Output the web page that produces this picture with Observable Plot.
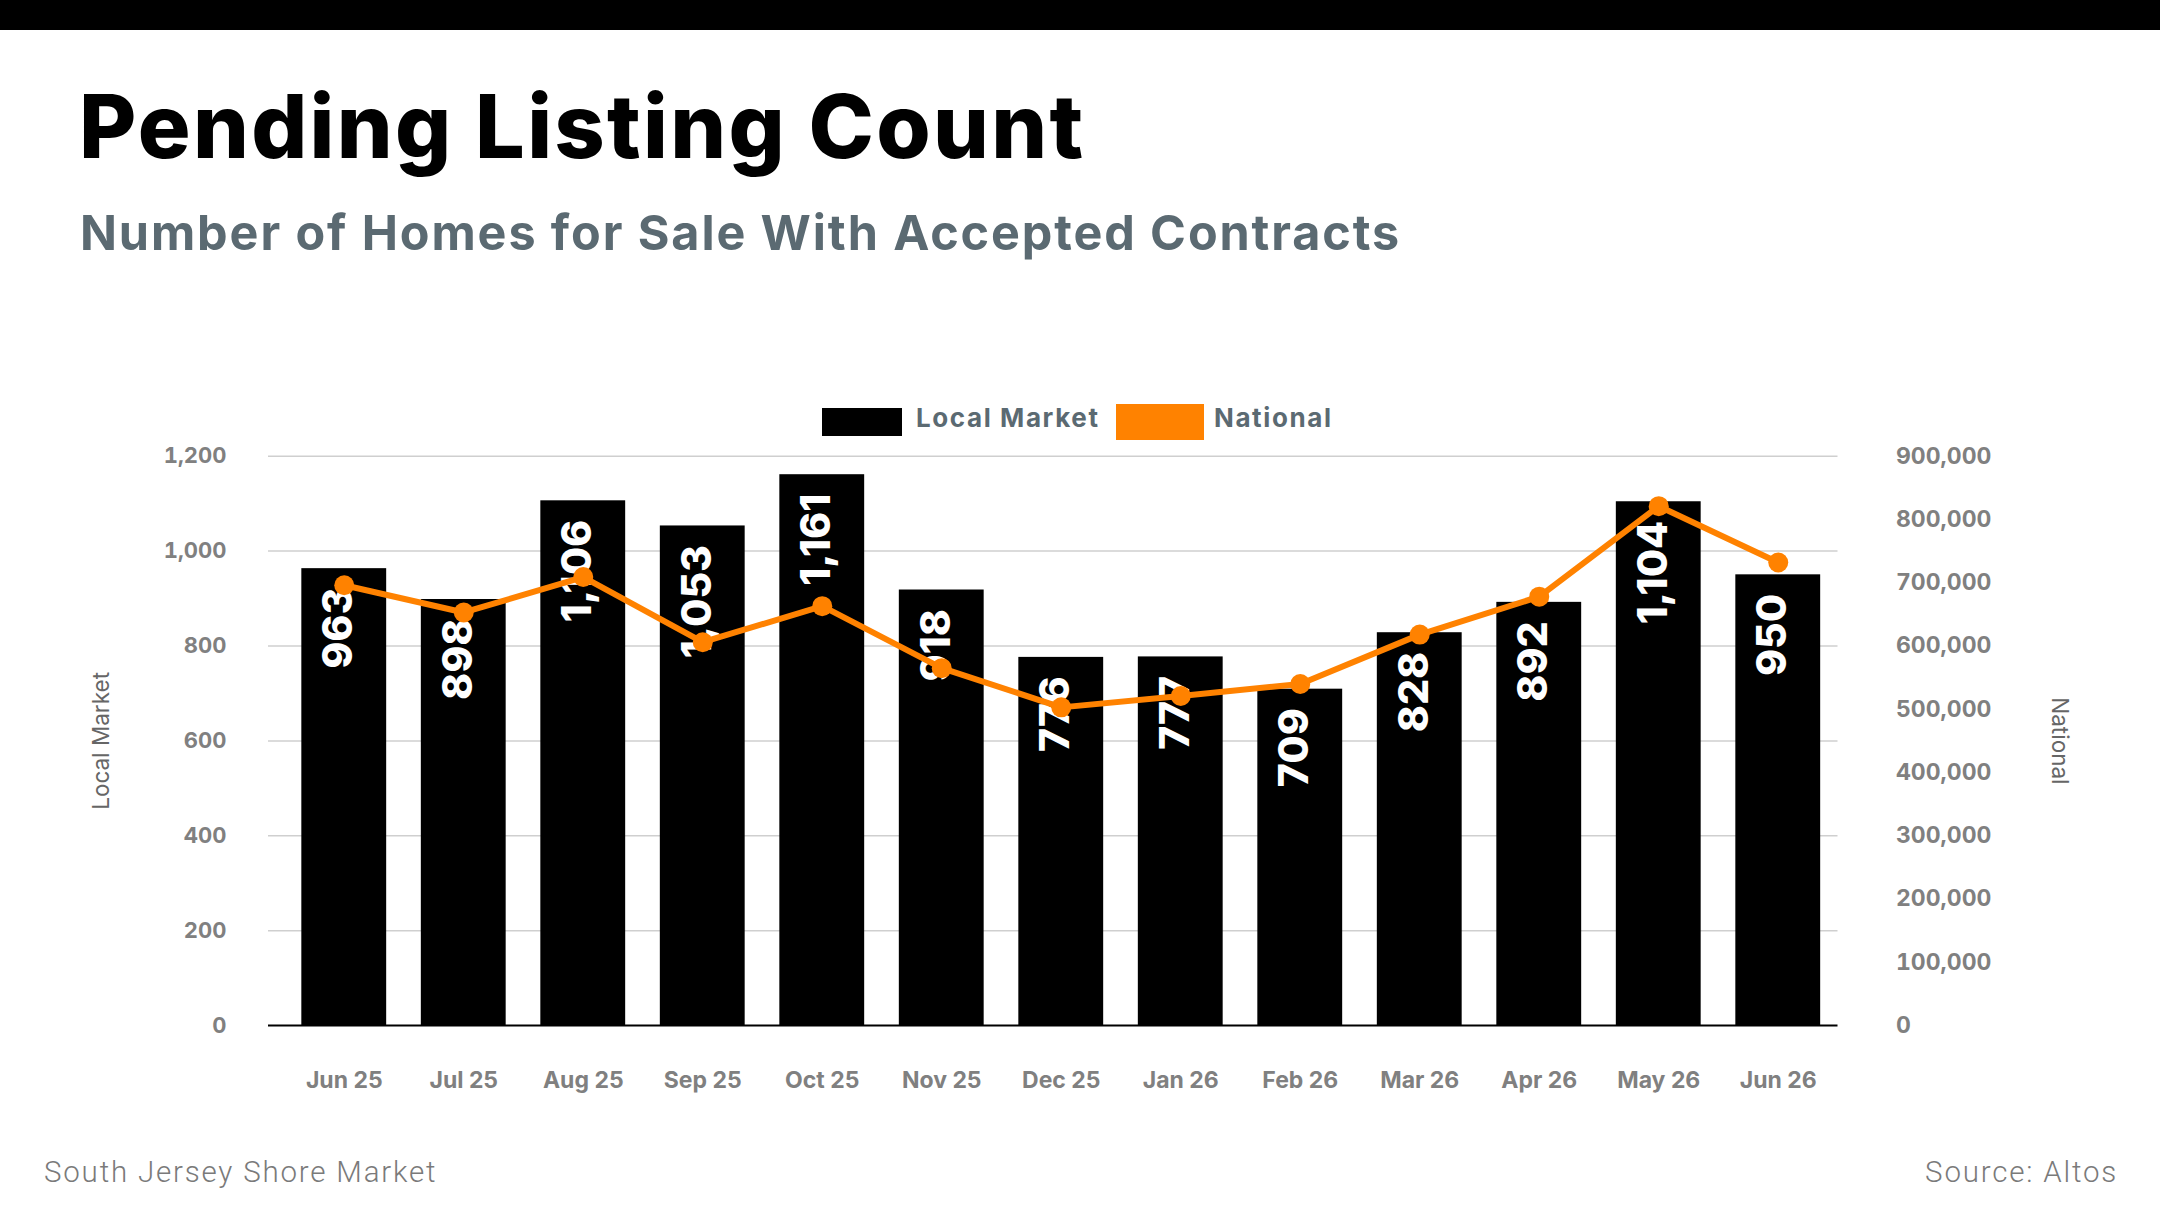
<!DOCTYPE html>
<html>
<head>
<meta charset="utf-8">
<script src="https://cdn.jsdelivr.net/npm/d3@7"></script>
<script src="https://cdn.jsdelivr.net/npm/@observablehq/plot@0.6"></script>
<style>
  html, body { margin: 0; padding: 0; background: #fff; }
  body { width: 2160px; height: 1215px; position: relative; overflow: hidden; font-family: Inter, sans-serif; }
  #topbar { position: absolute; left: 0; top: 0; width: 2160px; height: 30px; background: #000; }
  #title { position: absolute; left: 79px; top: 82px; font-size: 88px; font-weight: 800; line-height: 1; color: #000; white-space: nowrap; letter-spacing: 2.3px; }
  #subtitle { position: absolute; left: 80px; top: 209px; font-size: 48.5px; font-weight: 700; line-height: 1; color: #5b6a72; white-space: nowrap; letter-spacing: 1.9px; }
  .sw { position: absolute; }
  .lg { position: absolute; font-size: 26px; font-weight: 700; line-height: 1; color: #5b6a72; white-space: nowrap; letter-spacing: 1.6px; }
  #chart { position: absolute; left: 0; top: 440px; }
  .footer { position: absolute; top: 1158px; font-family: Roboto, sans-serif; font-weight: 300; font-size: 29.5px; line-height: 1; color: #7a7a7a; white-space: nowrap; letter-spacing: 1.8px; }
</style>
</head>
<body>
<div id="topbar"></div>
<div id="title">Pending Listing Count</div>
<div id="subtitle">Number of Homes for Sale With Accepted Contracts</div>
<div class="sw" style="left:822px; top:408px; width:80px; height:28px; background:#000;"></div>
<div class="lg" style="left:916px; top:405px;">Local Market</div>
<div class="sw" style="left:1116px; top:404px; width:88px; height:36px; background:#ff8200;"></div>
<div class="lg" style="left:1214px; top:405px;">National</div>
<div id="chart"></div>
<div class="footer" style="left:44px;">South Jersey Shore Market</div>
<div class="footer" style="right:42px;">Source: Altos</div>
<script>
const months = ["Jun 25", "Jul 25", "Aug 25", "Sep 25", "Oct 25", "Nov 25", "Dec 25", "Jan 26", "Feb 26", "Mar 26", "Apr 26", "May 26", "Jun 26"];
const localMarket = [963, 898, 1106, 1053, 1161, 918, 776, 777, 709, 828, 892, 1104, 950];
const national = [696000, 653000, 709000, 606000, 663000, 565000, 503000, 521000, 540000, 618000, 678000, 821000, 732000];
const leftTicks = [0, 200, 400, 600, 800, 1000, 1200];
const rightTicks = [0, 100000, 200000, 300000, 400000, 500000, 600000, 700000, 800000, 900000];
const leftMax = 1200;
const rightMax = 900000;

const ratio = rightMax / leftMax;
const data = months.map((m, i) => ({month: m, local: localMarket[i], national: national[i]}));
const fmt = d3.format(",");
const orange = "#ff8200";
const W = 2160, H = 670, svgTop = 440;
const plotTop = 455.7, plotBottom = 1025.1;

const chart = Plot.plot({
  width: W,
  height: H,
  marginTop: plotTop - svgTop,
  marginBottom: H - (plotBottom - svgTop),
  marginLeft: 268,
  marginRight: W - 1837.5,
  style: {fontFamily: "Inter, sans-serif", background: "transparent", overflow: "visible"},
  x: {type: "band", domain: months, paddingInner: 0.29, paddingOuter: 0.145, insetLeft: 16, round: false},
  y: {domain: [0, leftMax]},
  marks: [
    Plot.gridY(leftTicks.filter(d => d > 0), {stroke: "#cfcfcf", strokeOpacity: 1, strokeWidth: 1.5}),
    Plot.barY(data, {x: "month", y: "local", fill: "#000"}),
    Plot.ruleY([0], {stroke: "#000", strokeWidth: 2}),
    Plot.text(data, {x: "month", y: "local", text: d => fmt(d.local), rotate: -90, textAnchor: "end", dy: 19, dx: -5, fill: "#fff", fontSize: 41, fontWeight: 800, letterSpacing: 1}),
    Plot.line(data, {x: "month", y: d => d.national / ratio, stroke: orange, strokeWidth: 6}),
    Plot.dot(data, {x: "month", y: d => d.national / ratio, r: 10, fill: orange}),
    Plot.axisX({tickSize: 0, tickPadding: 46, fontSize: 23, fontWeight: 700, fill: "#808080", label: null, letterSpacing: 0.5}),
    Plot.axisY(leftTicks, {anchor: "left", tickSize: 0, tickPadding: 42, fontSize: 22, fontWeight: 700, fill: "#808080", tickFormat: fmt, label: null}),
    Plot.axisY(rightTicks.map(v => v / ratio), {anchor: "right", tickSize: 0, tickPadding: 58, fontSize: 23, fontWeight: 700, fill: "#808080", tickFormat: d => fmt(Math.round(d * ratio)), label: null, letterSpacing: 0.3}),
    Plot.text(["Local Market"], {frameAnchor: "left", dx: -167, rotate: -90, textAnchor: "middle", lineAnchor: "middle", text: d => d, fontSize: 22.5, fill: "#666"}),
    Plot.text(["National"], {frameAnchor: "right", dx: 221, rotate: 90, textAnchor: "middle", lineAnchor: "middle", text: d => d, fontSize: 22.5, fill: "#666"})
  ]
});
document.getElementById("chart").appendChild(chart);
</script>
</body>
</html>
